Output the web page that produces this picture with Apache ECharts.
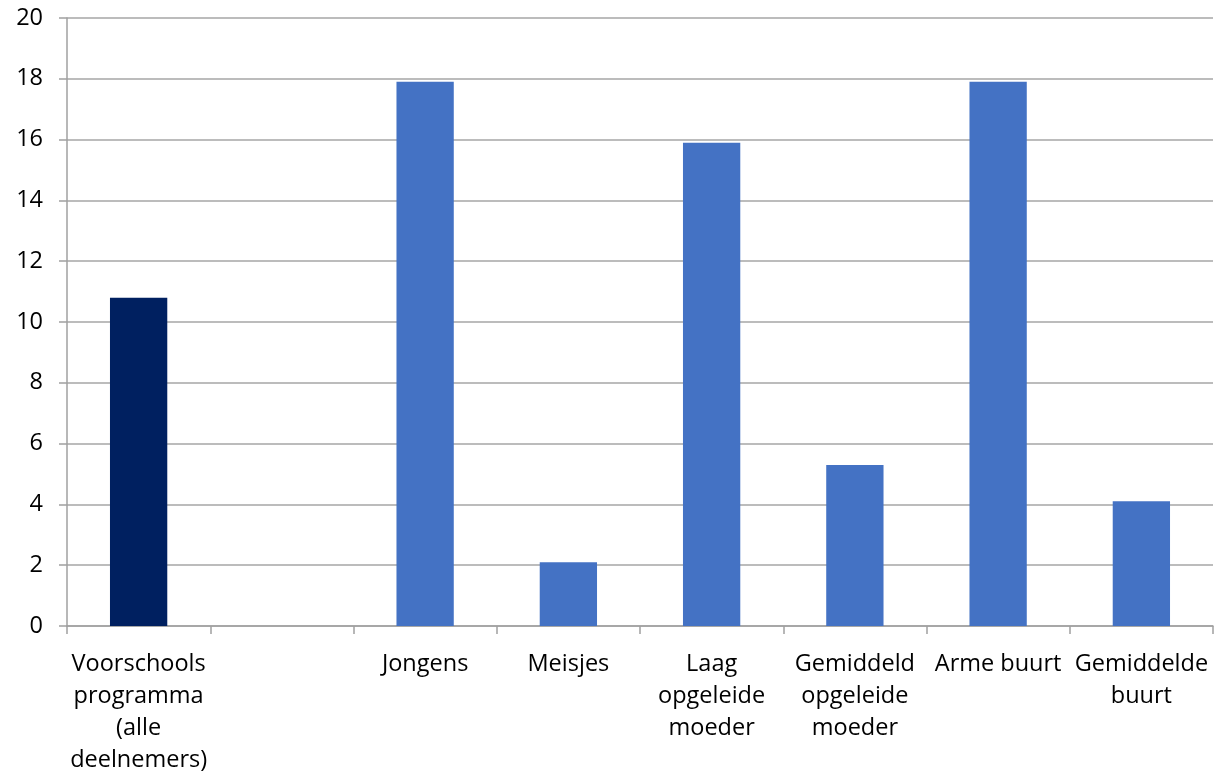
<!DOCTYPE html>
<html>
<head>
<meta charset="utf-8">
<script src="https://cdn.jsdelivr.net/npm/echarts@6/dist/echarts.min.js"></script>
<style>html,body{margin:0;padding:0;background:#fff}#c{width:1215px;height:771px}</style>
</head>
<body>
<div id="c"></div>
<script>
const categories = [
  "Voorschools\nprogramma\n(alle\ndeelnemers)",
  "",
  "Jongens",
  "Meisjes",
  "Laag\nopgeleide\nmoeder",
  "Gemiddeld\nopgeleide\nmoeder",
  "Arme buurt",
  "Gemiddelde\nbuurt"
];
const values = [10.8, null, 17.9, 2.1, 15.9, 5.3, 17.9, 4.1];
const highlightIndex = 0;
const yTicks = [0, 2, 4, 6, 8, 10, 12, 14, 16, 18, 20];

const chart = echarts.init(document.getElementById('c'));
const font = '"Open Sans", sans-serif';
chart.setOption({
  animation: false,
  grid: {left: 67, right: 2, top: 18, bottom: 145, containLabel: false, outerBoundsMode: 'none'},
  xAxis: {
    type: 'category',
    data: categories,
    axisLine: {lineStyle: {color: '#a0a0a0', width: 1.5}},
    axisTick: {show: true, length: 8, alignWithLabel: false, lineStyle: {color: '#a0a0a0', width: 1.5}},
    axisLabel: {interval: 0, color: '#000', fontSize: 23.5, fontFamily: font, lineHeight: 32, margin: 22}
  },
  yAxis: {
    type: 'value',
    min: yTicks[0],
    max: yTicks[yTicks.length - 1],
    interval: 2,
    axisLine: {show: true, lineStyle: {color: '#a0a0a0', width: 1.5}},
    axisTick: {show: true, length: 8, lineStyle: {color: '#a0a0a0', width: 1.5}},
    splitLine: {lineStyle: {color: '#a6a6a6', width: 1.5}},
    axisLabel: {color: '#000', fontSize: 23.5, fontFamily: font, margin: 24}
  },
  series: [{
    type: 'bar',
    barWidth: '40%',
    data: values.map((v, i) => ({
      value: v,
      itemStyle: {color: i === highlightIndex ? '#002060' : '#4472C4'}
    }))
  }]
});
</script>
</body>
</html>
